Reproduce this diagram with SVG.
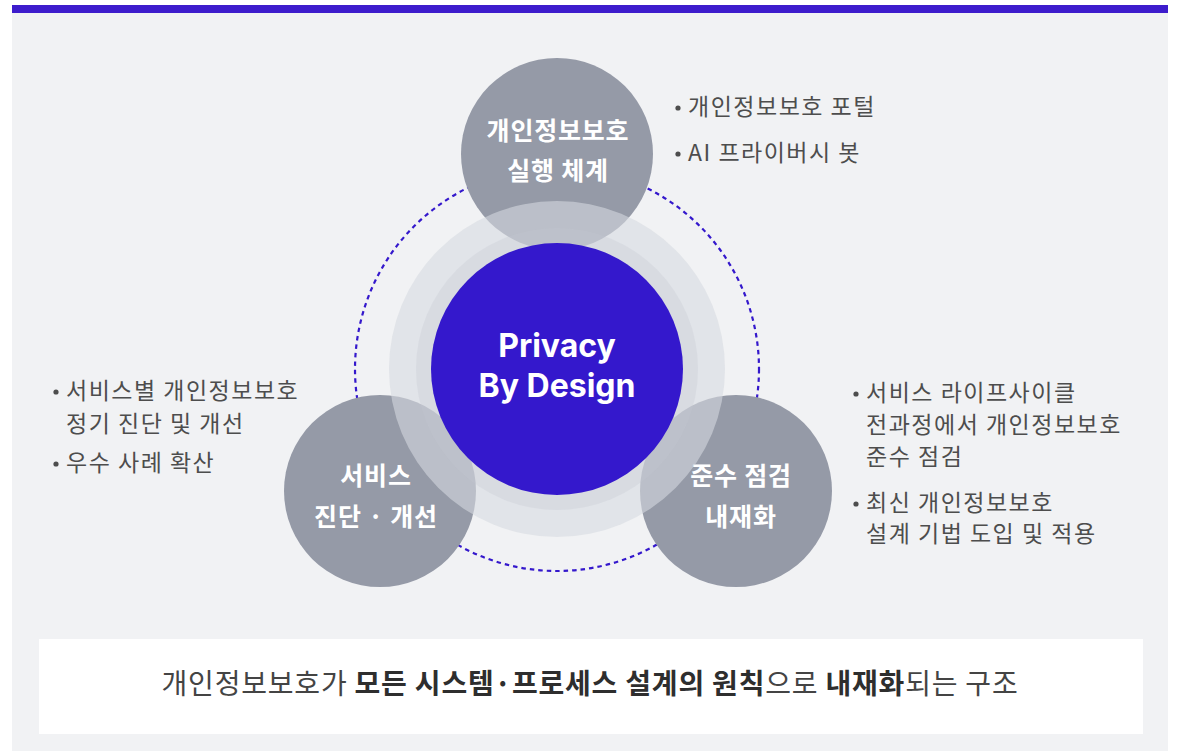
<svg xmlns="http://www.w3.org/2000/svg" width="1178" height="751" viewBox="0 0 1178 751">
<style>
.lbl{font-family:"Noto Sans CJK KR","Noto Sans",sans-serif;font-weight:700;font-size:25px;letter-spacing:0.8px;fill:#ffffff;text-anchor:middle}
.bul{font-family:"Noto Sans CJK KR","Noto Sans",sans-serif;font-weight:400;font-size:23px;letter-spacing:1.5px;fill:#4d4d4d}
.sat{fill:#959aa7}
.dot{fill:#4d4d4d}
.core{font-family:Inter,"Open Sans",sans-serif;font-weight:700;font-size:32px;fill:#ffffff;text-anchor:middle}
.foot{font-family:"Noto Sans CJK KR","Noto Sans",sans-serif;font-size:28px;letter-spacing:0.8px;fill:#444444;text-anchor:middle}
</style>
<rect width="1178" height="751" fill="#ffffff"/>
<rect x="12" y="13" width="1156" height="738" fill="#f1f2f4"/>
<rect x="12" y="5" width="1156" height="8" fill="#3d1ccc"/>

<g id="connectors">
<circle cx="557" cy="369" r="202" fill="none" stroke="#3418cc" stroke-width="2.2" stroke-dasharray="4.5 4"/>
</g>

<g id="node-top">
<circle class="sat" cx="557" cy="154" r="96"/>
<text class="lbl" x="558" y="140">개인정보보호</text>
<text class="lbl" x="558" y="180">실행 체계</text>
</g>
<g id="node-left">
<circle class="sat" cx="380" cy="491" r="96"/>
<text class="lbl" x="376" y="485">서비스</text>
<text class="lbl" x="376" y="526">진단 · 개선</text>
</g>
<g id="node-right">
<circle class="sat" cx="736" cy="491" r="96"/>
<text class="lbl" x="741" y="485">준수 점검</text>
<text class="lbl" x="741" y="526">내재화</text>
</g>

<g id="node-core">
<circle cx="557" cy="369" r="168" fill="rgb(215,218,224)" fill-opacity="0.59"/>
<circle cx="557" cy="369" r="141" fill="#c4c8cf" fill-opacity="0.3"/>
<circle cx="557" cy="369" r="126" fill="#3418cc"/>
<text class="core" x="557" y="357">Privacy</text>
<text class="core" x="557" y="397">By Design</text>
</g>

<g id="notes-top">
<circle class="dot" cx="678" cy="108" r="2.6"/>
<text class="bul" x="688" y="115">개인정보보호 포털</text>
<circle class="dot" cx="678" cy="154" r="2.6"/>
<text class="bul" x="688" y="161">AI 프라이버시 봇</text>
</g>
<g id="notes-left">
<circle class="dot" cx="56" cy="392" r="2.6"/>
<text class="bul" x="66" y="399">서비스별 개인정보보호</text>
<text class="bul" x="66" y="432">정기 진단 및 개선</text>
<circle class="dot" cx="56" cy="464" r="2.6"/>
<text class="bul" x="66" y="471">우수 사례 확산</text>
</g>
<g id="notes-right">
<circle class="dot" cx="856" cy="394" r="2.6"/>
<text class="bul" x="866" y="401">서비스 라이프사이클</text>
<text class="bul" x="866" y="433">전과정에서 개인정보보호</text>
<text class="bul" x="866" y="465">준수 점검</text>
<circle class="dot" cx="856" cy="504" r="2.6"/>
<text class="bul" x="866" y="511">최신 개인정보보호</text>
<text class="bul" x="866" y="542">설계 기법 도입 및 적용</text>
</g>

<g id="footer">
<rect x="39" y="639" width="1104" height="95" fill="#ffffff"/>
<text class="foot" x="590" y="694">개인정보보호가 <tspan font-weight="700" fill="#2e2e2e">모든 시스템·프로세스 설계의 원칙</tspan>으로 <tspan font-weight="700" fill="#2e2e2e">내재화</tspan>되는 구조</text>
</g>
</svg>
